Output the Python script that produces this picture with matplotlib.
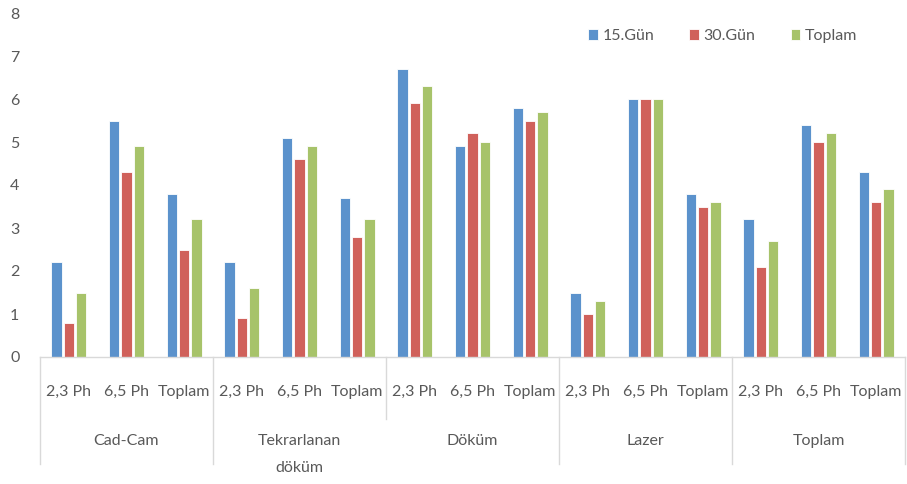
import numpy as np
import matplotlib
matplotlib.use("Agg")
import matplotlib.pyplot as plt
import matplotlib.transforms as mtransforms

# data
groups = ["Cad-Cam", "Tekrarlanan\ndöküm", "Döküm", "Lazer", "Toplam"]
subs = ["2,3 Ph", "6,5 Ph", "Toplam"]
series = ["15.Gün", "30.Gün", "Toplam"]

gun15 = [2.2, 5.5, 3.8, 2.2, 5.1, 3.7, 6.7, 4.9, 5.8, 1.5, 6.0, 3.8, 3.2, 5.4, 4.3]
gun30 = [0.8, 4.3, 2.5, 0.9, 4.6, 2.8, 5.9, 5.2, 5.5, 1.0, 6.0, 3.5, 2.1, 5.0, 3.6]
toplam = [1.5, 4.9, 3.2, 1.6, 4.9, 3.2, 6.3, 5.0, 5.7, 1.3, 6.0, 3.6, 2.7, 5.2, 3.9]

colors = ["#5b92cc", "#d0615b", "#a7c36a"]
text_col = "#595959"
line_col = "#d9d9d9"
fs = 11.5

plt.rcParams["font.family"] = ["Lato", "DejaVu Sans"]

fig = plt.figure(figsize=(9.07, 4.84), dpi=100)
ax = fig.add_axes([40 / 907, 127 / 484, 865 / 907, 344 / 484])

x = np.arange(len(gun15))
w = 0.18
step = 0.215
for i, vals in enumerate([gun15, gun30, toplam]):
    ax.bar(x + (i - 1) * step, vals, width=w, color=colors[i],
           edgecolor="white", linewidth=0.6, label=series[i], zorder=2)

ax.set_xlim(-0.5, len(x) - 0.5)
ax.set_ylim(0, 8)
ax.set_yticks(range(0, 9))
ax.tick_params(axis="y", length=0, labelsize=fs, labelcolor=text_col, pad=21.5)
for lab in ax.get_yticklabels():
    lab.set_horizontalalignment("left")

ax.set_xticks(x)
ax.set_xticklabels(subs * len(groups))
ax.tick_params(axis="x", length=0, labelsize=fs, labelcolor=text_col, pad=20)

for s in ["top", "right", "left"]:
    ax.spines[s].set_visible(False)
ax.spines["bottom"].set_color(line_col)
ax.spines["bottom"].set_linewidth(1.0)

# group labels and separators below the axis
trans = mtransforms.blended_transform_factory(ax.transData, ax.transAxes)
px = 1 / 344
for g, name in enumerate(groups):
    cx = g * 3 + 1
    ax.text(cx, -77 * px, name, transform=trans, ha="center", va="top",
            fontsize=fs, color=text_col, linespacing=2.15)
for b in range(len(groups) + 1):
    xb = b * 3 - 0.5
    bottom = -62 * px if b == 2 else -107 * px
    ax.plot([xb, xb], [0, bottom], transform=trans, color=line_col,
            linewidth=1.0, clip_on=False)

leg = ax.legend(loc="upper left", bbox_to_anchor=(0.617, 0.995), ncol=3,
                frameon=False, fontsize=fs, handlelength=0.6, handleheight=0.6,
                handletextpad=0.3, columnspacing=2.2)
for t in leg.get_texts():
    t.set_color(text_col)

fig.savefig("out.png", dpi=100)
